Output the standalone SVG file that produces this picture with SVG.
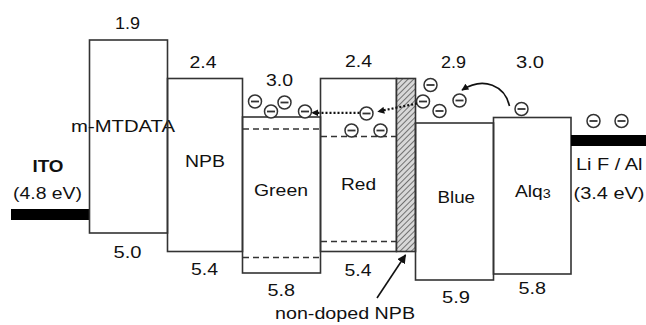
<svg xmlns="http://www.w3.org/2000/svg" width="646" height="325" viewBox="0 0 646 325">
<defs>
<style>
text{font-family:"Liberation Sans",Arial,sans-serif;font-size:16px;fill:#111}
.box{fill:none;stroke:#333;stroke-width:1.6}
.dash{stroke:#333;stroke-width:1.5;stroke-dasharray:6,4;fill:none}
.dot{stroke:#111;stroke-width:2.2;stroke-dasharray:2,2;fill:none}
.arr{stroke:#111;stroke-width:1.6;fill:none}
</style>
<pattern id="hatch" width="4" height="4" patternUnits="userSpaceOnUse" patternTransform="rotate(45)">
<rect width="4" height="4" fill="#d8d8d8"/>
<line x1="0" y1="0" x2="0" y2="4" stroke="#444" stroke-width="1.4"/>
</pattern>
<marker id="ah" viewBox="0 0 10 10" refX="9" refY="5" markerWidth="7" markerHeight="7" orient="auto" markerUnits="userSpaceOnUse">
<path d="M0,0 L10,5 L0,10 z" fill="#111"/>
</marker>
<marker id="ah2" viewBox="0 0 10 10" refX="9" refY="5" markerWidth="9" markerHeight="9" orient="auto" markerUnits="userSpaceOnUse">
<path d="M0,0 L10,5 L0,10 z" fill="#111"/>
</marker>
<g id="e"><circle cx="0" cy="0" r="6.5" fill="#fff" stroke="#333" stroke-width="1.5"/><line x1="-4" y1="0" x2="4" y2="0" stroke="#333" stroke-width="1.8"/></g>
</defs>
<rect width="646" height="325" fill="#fff"/>

<g id="ito">
<rect x="11" y="209" width="78" height="11" fill="#000"/>
<text x="48" y="172" text-anchor="middle" font-weight="bold" textLength="31" lengthAdjust="spacingAndGlyphs">ITO</text>
<text x="13" y="199" textLength="69" lengthAdjust="spacingAndGlyphs">(4.8 eV)</text>
</g>

<g id="mtdata">
<rect class="box" x="89.5" y="40" width="78" height="193"/>
<text x="115" y="29" textLength="25" lengthAdjust="spacingAndGlyphs">1.9</text>
<text x="71" y="131.5" textLength="104" lengthAdjust="spacingAndGlyphs">m-MTDATA</text>
<text x="113.5" y="258" textLength="28" lengthAdjust="spacingAndGlyphs">5.0</text>
</g>

<g id="npb">
<rect class="box" x="167.5" y="78.5" width="75" height="173"/>
<text x="189.5" y="68" textLength="27" lengthAdjust="spacingAndGlyphs">2.4</text>
<text x="185" y="166.5" textLength="40" lengthAdjust="spacingAndGlyphs">NPB</text>
<text x="191" y="275" textLength="27" lengthAdjust="spacingAndGlyphs">5.4</text>
</g>

<g id="green">
<rect class="box" x="242.5" y="117" width="78" height="156"/>
<line class="dash" x1="243" y1="129" x2="320" y2="129"/>
<line class="dash" x1="243" y1="257.5" x2="320" y2="257.5"/>
<text x="266" y="86" textLength="27" lengthAdjust="spacingAndGlyphs">3.0</text>
<text x="254" y="196" textLength="54" lengthAdjust="spacingAndGlyphs">Green</text>
<text x="267.5" y="296" textLength="27.5" lengthAdjust="spacingAndGlyphs">5.8</text>
</g>

<g id="red">
<rect class="box" x="320.5" y="78.5" width="76" height="173"/>
<line class="dash" x1="321" y1="136.5" x2="396" y2="136.5"/>
<line class="dash" x1="321" y1="241.5" x2="396" y2="241.5"/>
<text x="345" y="67" textLength="27" lengthAdjust="spacingAndGlyphs">2.4</text>
<text x="341" y="190" textLength="35" lengthAdjust="spacingAndGlyphs">Red</text>
<text x="344.5" y="276" textLength="27" lengthAdjust="spacingAndGlyphs">5.4</text>
</g>

<g id="nondoped-npb">
<rect x="396.5" y="78.5" width="19" height="173" fill="url(#hatch)" stroke="#333" stroke-width="1.6"/>
<text x="275" y="319" textLength="140" lengthAdjust="spacingAndGlyphs">non-doped NPB</text>
</g>

<g id="blue">
<rect class="box" x="415.5" y="123" width="78" height="157"/>
<text x="441" y="68" textLength="25" lengthAdjust="spacingAndGlyphs">2.9</text>
<text x="437.5" y="203" textLength="37.5" lengthAdjust="spacingAndGlyphs">Blue</text>
<text x="442" y="303" textLength="28" lengthAdjust="spacingAndGlyphs">5.9</text>
</g>

<g id="alq3">
<rect class="box" x="493.5" y="117.5" width="77.5" height="156.5"/>
<text x="516" y="68" textLength="28" lengthAdjust="spacingAndGlyphs">3.0</text>
<text transform="translate(515,197) scale(1.2,1)">Alq<tspan font-size="12" dy="1">3</tspan></text>
<text x="518.5" y="294" textLength="27.5" lengthAdjust="spacingAndGlyphs">5.8</text>
</g>

<g id="lif-al">
<rect x="571" y="135" width="75" height="11" fill="#000"/>
<text x="576" y="170" textLength="66.5" lengthAdjust="spacingAndGlyphs">Li F / Al</text>
<text x="573.5" y="199" textLength="71" lengthAdjust="spacingAndGlyphs">(3.4 eV)</text>
</g>

<g id="electrons">
<use href="#e" x="255" y="101.5"/>
<use href="#e" x="271" y="111.5"/>
<use href="#e" x="284.5" y="102.5"/>
<use href="#e" x="305" y="111.5"/>
<use href="#e" x="366.5" y="113.5"/>
<use href="#e" x="351.5" y="130.5"/>
<use href="#e" x="380.5" y="130.5"/>
<use href="#e" x="430.5" y="85"/>
<use href="#e" x="423" y="101.5"/>
<use href="#e" x="439.5" y="111"/>
<use href="#e" x="459.5" y="100.5"/>
<use href="#e" x="521.5" y="109"/>
<use href="#e" x="593.5" y="121"/>
<use href="#e" x="621.5" y="121"/>
</g>

<g id="connectors">
<line class="dot" x1="417" y1="103.5" x2="378" y2="111.5" marker-end="url(#ah)"/>
<line class="dot" x1="359.5" y1="112.8" x2="312" y2="112.8" marker-end="url(#ah)"/>
<path class="arr" d="M509.5,106 C505,86 484,76 462,90" marker-end="url(#ah)"/>
<line class="arr" x1="377" y1="298" x2="405.5" y2="255" stroke-width="2" marker-end="url(#ah2)"/>
</g>
</svg>
